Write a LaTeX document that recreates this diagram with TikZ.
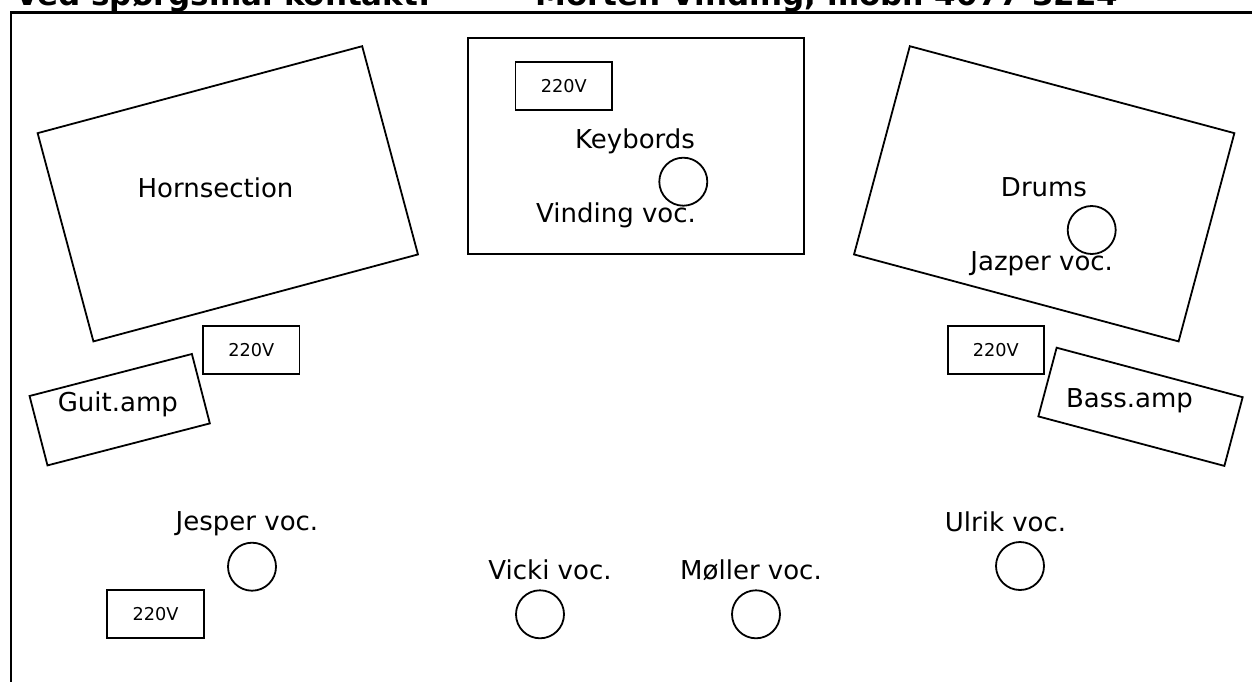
\documentclass[tikz,border=0pt]{standalone}
\usepackage{fontspec}
\setmainfont{DejaVu Sans}

\begin{document}
\begin{tikzpicture}[x=1pt,y=-1pt,
    box/.style={draw,line width=1.8pt,inner sep=0pt,rectangle},
    bigbox/.style={box,minimum width=336pt,minimum height=215.6pt},
    ampbox/.style={box,minimum width=180pt,minimum height=71.4pt},
    pwr/.style={box,minimum width=96.5pt,minimum height=48.3pt,font=\fontsize{17.7}{21}\selectfont},
    mic/.style={draw,line width=1.8pt,circle,inner sep=0pt,minimum size=48pt},
    lbl/.style={inner sep=0pt,anchor=base,font=\fontsize{26}{31}\selectfont},
    title/.style={inner sep=0pt,anchor=base west,font=\fontsize{31}{37}\selectfont\bfseries}]
  \useasboundingbox (0,0) rectangle (1252,682);
  \clip (0,0) rectangle (1252,682);

                  % Header
                  \node[title] (contact) at (15,6) {Ved spørgsmål kontakt:};
                  \node[title] (phone) at (535,6) {Morten Vinding, mobil 4077 3224};
                  \draw[line width=2.5pt] (11,700) -- (11,12.7) -- (1270,12.7);

                  % Risers
                  \node[bigbox,rotate=15] (horns) at (227.8,193.8) {};
                  \node[bigbox] (keys) at (636,146) {};
                  \node[bigbox,rotate=-15] (drums) at (1044.2,193.8) {};
                  \node[lbl] at (215.5,197) {Hornsection};
                  \node[lbl] at (635,149) {Keybords};
                  \node[lbl] at (616,222.3) {Vinding voc.};
                  \node[lbl] at (1044,196.7) {Drums};
                  \node[lbl] at (1041.7,270) {Jazper voc.};

                  % Amps
                  \node[ampbox,minimum width=167.7pt,minimum height=71.7pt,rotate=14.5] (guitamp) at (119.7,409.7) {};
                  \node[ampbox,minimum width=192.5pt,minimum height=71.1pt,rotate=-14.9] (bassamp) at (1140.5,406.8) {};
                  \node[lbl] at (117.8,411.7) {Guit.amp};
                  \node[lbl] at (1129.5,407.7) {Bass.amp};

                  % Power
                  \node[pwr] (pwrkeys) at (563.7,86.2) {220V};
                  \node[pwr] (pwrguit) at (251.3,350) {220V};
                  \node[pwr] (pwrbass) at (995.9,350.2) {220V};
                  \node[pwr] (pwrjesper) at (155.5,614.2) {220V};

                  % Mics
                  \node[mic] (micvinding) at (683.3,181.7) {};
                  \node[mic] (micjazper) at (1091.7,230) {};
                  \node[mic] (micjesper) at (252,566.7) {};
                  \node[mic] (micvicki) at (540,614.3) {};
                  \node[mic] (micmoller) at (756,614.3) {};
                  \node[mic] (miculrik) at (1020,566) {};
                  \node[lbl] at (247,530.7) {Jesper voc.};
                  \node[lbl] at (550,579.3) {Vicki voc.};
                  \node[lbl] at (751,579) {Møller voc.};
                  \node[lbl] at (1005.5,531) {Ulrik voc.};
\end{tikzpicture}
\end{document}
